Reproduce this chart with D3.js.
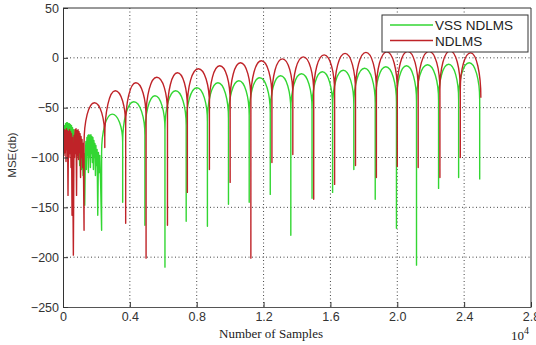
<!DOCTYPE html>
<html>
<head>
<meta charset="utf-8">
<script src="https://cdn.jsdelivr.net/npm/d3@7"></script>
<style>
  body { margin: 0; background: #fff; }
  svg { display: block; }
</style>
</head>
<body>
<div id="chart"></div>
<script>
// x values are in units of 10^4 samples
const xTicks = [0, 0.4, 0.8, 1.2, 1.6, 2.0, 2.4, 2.8];
const yTicks = [50, 0, -50, -100, -150, -200, -250];

// noisy start of each curve
const redNoiseX = [0.000, 0.003, 0.006, 0.009, 0.012, 0.015, 0.018, 0.021, 0.024, 0.027, 0.030, 0.033, 0.036, 0.039, 0.042, 0.045, 0.048, 0.051, 0.054, 0.057, 0.062, 0.066, 0.069, 0.072, 0.075, 0.078, 0.081, 0.084, 0.087, 0.090, 0.093, 0.096, 0.099, 0.102, 0.105, 0.108, 0.111, 0.114, 0.118, 0.121, 0.126];
const redNoiseY = [-88, -75, -98, -72, -95, -73, -104, -71, -92, -73, -138, -74, -100, -72, -96, -74, -110, -76, -158, -80, -198, -78, -100, -72, -96, -71, -138, -73, -98, -72, -102, -74, -95, -76, -120, -79, -100, -82, -110, -86, -173];

const greenNoiseX = [0.000, 0.003, 0.006, 0.009, 0.012, 0.015, 0.018, 0.021, 0.024, 0.027, 0.030, 0.033, 0.036, 0.039, 0.042, 0.045, 0.048, 0.051, 0.054, 0.057, 0.060, 0.065, 0.070, 0.075, 0.080, 0.085, 0.090, 0.095, 0.100, 0.105, 0.110, 0.115, 0.120, 0.125, 0.130, 0.134, 0.137, 0.140, 0.143, 0.146, 0.149, 0.152, 0.155, 0.158, 0.161, 0.164, 0.167, 0.170, 0.173, 0.176, 0.179, 0.182, 0.185, 0.188, 0.191, 0.194, 0.197, 0.200, 0.204, 0.208, 0.212, 0.216, 0.220, 0.225, 0.231];
const greenNoiseY = [-115, -80, -96, -68, -84, -66, -80, -65, -78, -65, -82, -66, -79, -66, -84, -67, -82, -68, -88, -70, -86, -72, -92, -75, -96, -78, -100, -82, -108, -86, -112, -90, -118, -96, -148, -95, -84, -112, -80, -98, -78, -115, -77, -100, -78, -110, -77, -96, -79, -105, -80, -112, -83, -100, -86, -118, -88, -108, -92, -158, -95, -115, -98, -125, -173];

// NDLMS lobes: dip positions, arch foot level, dip depth, lobe peaks
const redDipX  = [0.126, 0.25, 0.375, 0.497, 0.625, 0.744, 0.876, 1.0, 1.124, 1.25, 1.375, 1.5, 1.625, 1.75, 1.875, 2.0, 2.125, 2.255, 2.377, 2.50];
const redFoot  = [-86, -80, -68, -60, -55, -50, -47, -44, -42, -40, -38, -36, -35, -34, -33, -33, -32, -32, -32, -40];
const redDepth = [-173, -90, -166, -201, -168, -135, -112, -125, -201, -105, -97, -142, -127, -108, -120, -109, -110, -120, -100, -40];
const redPeak  = [-45, -33, -25, -19.5, -15, -11, -8, -5, -3, -1, 1, 3, 4.5, 5.5, 6, 6.5, 6.5, 7, 5];

// VSS NDLMS lobes
const greenDipX  = [0.231, 0.357, 0.49, 0.61, 0.737, 0.864, 0.99, 1.114, 1.24, 1.363, 1.49, 1.613, 1.74, 1.868, 1.995, 2.115, 2.247, 2.367, 2.493];
const greenFoot  = [-95, -85, -78, -72, -68, -64, -61, -58, -55, -53, -51, -49, -47, -46, -45, -44, -43, -42, -42];
const greenDepth = [-173, -145, -168, -210, -164, -169, -147, -145, -137, -178, -141, -135, -112, -142, -171, -208, -131, -120, -122];
const greenPeak  = [-56.5, -44, -38, -33, -30, -25, -23, -20, -18, -16, -14, -12.5, -10.5, -9, -8, -7, -6.5, -5];

const seriesNames = ["VSS NDLMS", "NDLMS"];
const seriesColors = ["#33d633", "#bf2328"];

const width = 536, height = 345;
const plotLeft = 63, plotRight = 531, plotTop = 8, plotBottom = 307;

const svg = d3.select("#chart").append("svg")
  .attr("width", width)
  .attr("height", height);

const x = d3.scaleLinear().domain([0, 2.8]).range([plotLeft, plotRight]);
const y = d3.scaleLinear().domain([-250, 50]).range([plotBottom, plotTop]);

svg.append("defs").append("clipPath").attr("id", "plot")
  .append("rect")
  .attr("x", plotLeft).attr("y", plotTop)
  .attr("width", plotRight - plotLeft).attr("height", plotBottom - plotTop);

// dotted grid
svg.append("g")
  .selectAll("line")
  .data(yTicks.filter(d => d > -250 && d < 50))
  .enter().append("line")
  .attr("x1", plotLeft).attr("x2", plotRight)
  .attr("y1", d => y(d)).attr("y2", d => y(d))
  .attr("stroke", "#444")
  .attr("stroke-dasharray", "1,2.5");

svg.append("g")
  .selectAll("line")
  .data(xTicks.filter(d => d > 0 && d < 2.8))
  .enter().append("line")
  .attr("x1", d => x(d)).attr("x2", d => x(d))
  .attr("y1", plotTop).attr("y2", plotBottom)
  .attr("stroke", "#444")
  .attr("stroke-dasharray", "1,2.5");

// build one curve: noisy start, then arches with spikes at each dip
function curvePath(nx, ny, dipX, foot, depth, peak) {
  let p = "M" + x(nx[0]) + "," + y(ny[0]);
  for (let i = 1; i < nx.length; i++) p += "L" + x(nx[i]) + "," + y(ny[i]);
  p += "L" + x(dipX[0]) + "," + y(foot[0]);
  for (let i = 0; i < peak.length; i++) {
    const x0 = x(dipX[i]), x1 = x(dipX[i + 1]);
    const rx = (x1 - x0) / 2;
    const yp = y(peak[i]), yl = y(foot[i]), yr = y(foot[i + 1]);
    p += `A${rx},${yl - yp} 0 0 1 ${x0 + rx},${yp}`;
    p += `A${rx},${yr - yp} 0 0 1 ${x1},${yr}`;
    p += `L${x1},${y(depth[i + 1])}`;
    if (i < peak.length - 1) p += `L${x1},${yr}`;
  }
  return p;
}

const plot = svg.append("g").attr("clip-path", "url(#plot)");

plot.append("path")
  .attr("d", curvePath(greenNoiseX, greenNoiseY, greenDipX, greenFoot, greenDepth, greenPeak))
  .attr("fill", "none")
  .attr("stroke", seriesColors[0])
  .attr("stroke-width", 1.4)
  .attr("stroke-linejoin", "round");

plot.append("path")
  .attr("d", curvePath(redNoiseX, redNoiseY, redDipX, redFoot, redDepth, redPeak))
  .attr("fill", "none")
  .attr("stroke", seriesColors[1])
  .attr("stroke-width", 1.4)
  .attr("stroke-linejoin", "round");

// axes
const xAxis = svg.append("g")
  .attr("transform", "translate(0," + plotBottom + ")")
  .call(d3.axisBottom(x).tickValues(xTicks).tickSizeInner(-5).tickSizeOuter(0)
    .tickFormat(d => d === 0 ? "0" : d3.format(".1f")(d)));
xAxis.select(".domain").attr("stroke", "#555");
xAxis.selectAll(".tick line").attr("stroke", "#333");
xAxis.selectAll("text")
  .attr("y", 5)
  .attr("fill", "#333")
  .style("font-family", "'Liberation Sans', Arial, sans-serif")
  .style("font-size", "12.5px");

const yAxis = svg.append("g")
  .attr("transform", "translate(" + plotLeft + ",0)")
  .call(d3.axisLeft(y).tickValues(yTicks).tickSizeInner(-5).tickSizeOuter(0));
yAxis.select(".domain").attr("stroke", "#333");
yAxis.selectAll(".tick line").attr("stroke", "#333");
yAxis.selectAll("text")
  .attr("x", -4)
  .attr("fill", "#333")
  .style("font-family", "'Liberation Sans', Arial, sans-serif")
  .style("font-size", "12.5px");

// top and right frame
svg.append("line")
  .attr("x1", plotLeft).attr("x2", plotRight).attr("y1", plotTop).attr("y2", plotTop)
  .attr("stroke", "#333");
svg.append("line")
  .attr("x1", plotRight).attr("x2", plotRight).attr("y1", plotTop).attr("y2", plotBottom)
  .attr("stroke", "#333");

// labels
svg.append("text")
  .attr("x", 271).attr("y", 338)
  .attr("text-anchor", "middle")
  .attr("fill", "#222")
  .style("font-family", "'Liberation Serif', 'Times New Roman', serif")
  .style("font-size", "13px")
  .text("Number of Samples");

const exp = svg.append("text")
  .attr("x", 511).attr("y", 340)
  .attr("fill", "#222")
  .style("font-family", "'Liberation Serif', 'Times New Roman', serif")
  .style("font-size", "13px");
exp.append("tspan").text("10");
exp.append("tspan").attr("dy", -6).style("font-size", "10px").text("4");

svg.append("text")
  .attr("transform", "translate(16,155) rotate(-90)")
  .attr("text-anchor", "middle")
  .attr("fill", "#333")
  .style("font-family", "'Liberation Sans', Arial, sans-serif")
  .style("font-size", "11.5px")
  .text("MSE(db)");

// legend
const legend = svg.append("g");
legend.append("rect")
  .attr("x", 382).attr("y", 15)
  .attr("width", 146).attr("height", 37)
  .attr("fill", "#fff")
  .attr("stroke", "#333");

legend.selectAll("line.key")
  .data(seriesNames)
  .enter().append("line")
  .attr("class", "key")
  .attr("x1", 390).attr("x2", 433)
  .attr("y1", (d, i) => 25 + i * 15.5).attr("y2", (d, i) => 25 + i * 15.5)
  .attr("stroke", (d, i) => seriesColors[i])
  .attr("stroke-width", 1.4);

legend.selectAll("text")
  .data(seriesNames)
  .enter().append("text")
  .attr("x", 435)
  .attr("y", (d, i) => 30 + i * 15.5)
  .attr("fill", "#222")
  .style("font-family", "'Liberation Sans', Arial, sans-serif")
  .style("font-size", "13.5px")
  .text(d => d);
</script>
</body>
</html>
